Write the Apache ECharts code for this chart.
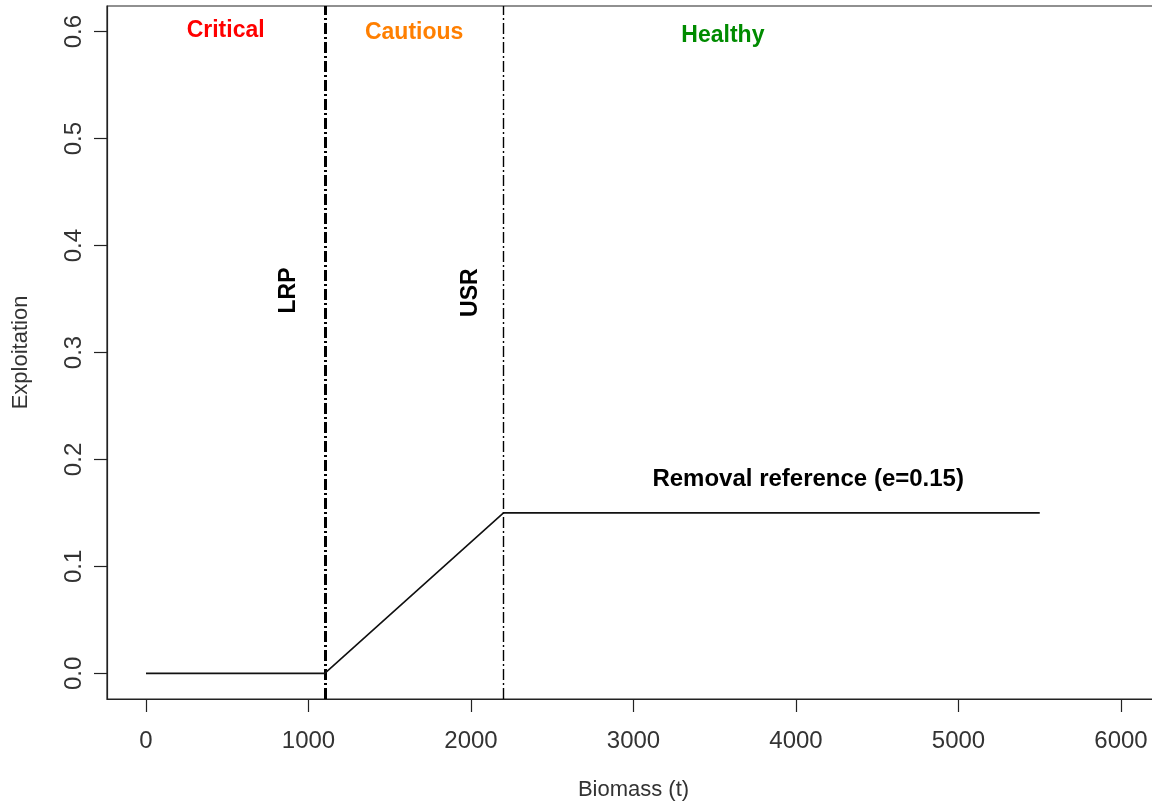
<!DOCTYPE html>
<html>
<head>
<meta charset="utf-8">
<script src="https://cdn.jsdelivr.net/npm/echarts@6/dist/echarts.min.js"></script>
<style>html,body{margin:0;padding:0;background:#fff}#c{width:1152px;height:807px}</style>
</head>
<body>
<div id="c"></div>
<script>
// Data
var xTicks = [0, 1000, 2000, 3000, 4000, 5000, 6000];
var yTicks = [0, 0.1, 0.2, 0.3, 0.4, 0.5, 0.6];
var biomass = [0, 1100, 2200, 5500];
var exploitation = [0, 0, 0.15, 0.15];
var refNames = ['LRP', 'USR'];
var refValues = [1100, 2200];
var refWidths = [3, 1.4];
var zoneNames = ['Critical', 'Cautious', 'Healthy'];
var zoneX = [490, 1650, 3550];
var zoneY = [0.601, 0.599, 0.596];
var zoneColors = ['#FF0000', '#FF7F00', '#008B00'];
var refLabelX = [875, 1995];
var refLabelY = [0.358, 0.356];
var removalText = 'Removal reference (e=0.15)';
var removalX = 4075;
var removalY = 0.181;

var chart = echarts.init(document.getElementById('c'), null, {renderer: 'canvas'});
var font = 'Liberation Sans, Arial, sans-serif';

var annData = [];
for (var i = 0; i < zoneNames.length; i++) {
  annData.push({value: [zoneX[i], zoneY[i]], label: {formatter: zoneNames[i], color: zoneColors[i]}});
}
for (var j = 0; j < refNames.length; j++) {
  annData.push({value: [refLabelX[j], refLabelY[j]], label: {formatter: refNames[j], rotate: 90, color: '#000'}});
}
annData.push({value: [removalX, removalY], label: {formatter: removalText, color: '#000', fontSize: 24}});

var mlData = refValues.map(function (v, k) {
  return {xAxis: v, lineStyle: {width: refWidths[k], type: [11, 3, 2, 3], color: '#000'}};
});

chart.setOption({
  animation: false,
  backgroundColor: '#fff',
  grid: {left: 107, top: 6, width: 1053, height: 693, outerBoundsMode: 'none', containLabel: false,
    show: true, borderColor: '#222', borderWidth: 1.2, backgroundColor: 'transparent'},
  xAxis: {
    type: 'value', min: -240, max: 6240,
    name: 'Biomass (t)', nameLocation: 'middle', nameGap: 80,
    nameTextStyle: {fontFamily: font, fontSize: 22, color: '#333'},
    axisLine: {show: true, onZero: false, lineStyle: {color: '#222', width: 1.2}},
    axisTick: {show: true, inside: false, length: 13, customValues: xTicks, lineStyle: {color: '#222', width: 1.2}},
    axisLabel: {customValues: xTicks, margin: 30, fontFamily: font, fontSize: 24, color: '#333',
      formatter: function (v) { return String(v); }},
    splitLine: {show: false}
  },
  yAxis: {
    type: 'value', min: -0.024, max: 0.624,
    name: 'Exploitation', nameLocation: 'middle', nameGap: 75, nameRotate: 90,
    nameTextStyle: {fontFamily: font, fontSize: 22, color: '#333'},
    axisLine: {show: true, onZero: false, lineStyle: {color: '#222', width: 1.2}},
    axisTick: {show: true, inside: false, length: 13, customValues: yTicks, lineStyle: {color: '#222', width: 1.2}},
    axisLabel: {customValues: yTicks, rotate: 90, margin: 21, fontFamily: font, fontSize: 24, color: '#333',
      formatter: function (v) { return v.toFixed(1); }},
    splitLine: {show: false}
  },
  series: [
    {
      type: 'line', data: biomass.map(function (b, k) { return [b, exploitation[k]]; }),
      showSymbol: false, symbol: 'none', z: 3,
      lineStyle: {color: '#111', width: 1.6},
      markLine: {silent: true, symbol: 'none', label: {show: false}, data: mlData, z: 2}
    },
    {
      type: 'scatter', data: annData, symbolSize: 0, silent: true, z: 4,
      itemStyle: {opacity: 1},
      label: {show: true, opacity: 1, position: 'inside', fontFamily: font, fontSize: 23, fontWeight: 'bold'}
    }
  ]
});
</script>
</body>
</html>
